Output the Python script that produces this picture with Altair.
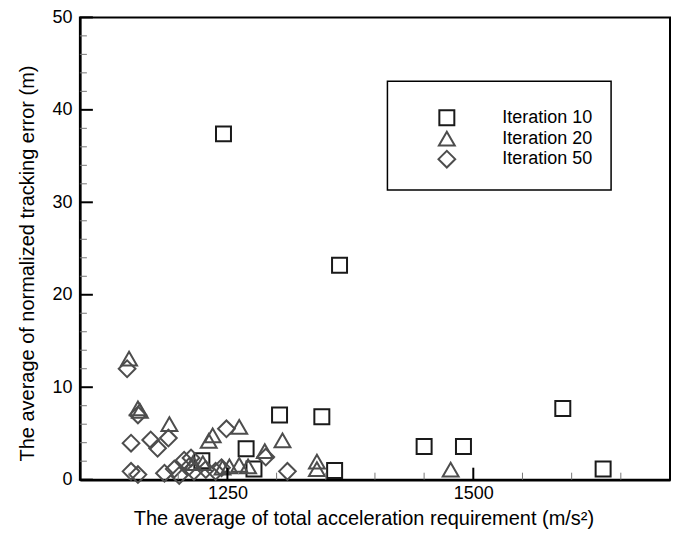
import altair as alt
import pandas as pd

series = ["Iteration 10", "Iteration 20", "Iteration 50"]

it10_x = [1246, 1364, 1303, 1346, 1591, 1450, 1490, 1632, 1269, 1359, 1277, 1224]
it10_y = [37.4, 23.2, 7.0, 6.8, 7.7, 3.6, 3.6, 1.15, 3.35, 1.0, 1.15, 2.05]

it20_x = [1150, 1159, 1161, 1191, 1231, 1235, 1262, 1288, 1306, 1341, 1341, 1477,
          1215, 1225, 1245, 1252, 1262, 1271]
it20_y = [13.1, 7.7, 7.45, 6.0, 4.2, 4.8, 5.7, 3.1, 4.25, 1.95, 1.15, 1.1,
          1.8, 1.8, 1.3, 1.45, 1.6, 1.45]

it50_x = [1148, 1159, 1152, 1172, 1179, 1190, 1249, 1289, 1311, 1152, 1159, 1186,
          1196, 1201, 1206, 1211, 1213, 1216, 1228, 1238, 1244]
it50_y = [12.0, 7.0, 3.95, 4.3, 3.4, 4.5, 5.5, 2.45, 0.9, 0.9, 0.55, 0.7,
          1.15, 0.45, 2.1, 1.4, 2.35, 0.9, 1.1, 0.9, 1.3]

x_major = [1250, 1500]
x_minor = [1150, 1200, 1300, 1350, 1400, 1450, 1550, 1600, 1650]
y_major = [0, 10, 20, 30, 40, 50]
y_minor = [2, 4, 6, 8, 12, 14, 16, 18, 22, 24, 26, 28, 32, 34, 36, 38, 42, 44, 46, 48]

rows = []
for name, xs, ys in zip(series, [it10_x, it20_x, it50_x], [it10_y, it20_y, it50_y]):
    for a, b in zip(xs, ys):
        rows.append({"series": name, "x": a, "y": b})
df = pd.DataFrame(rows)

FONT = "Liberation Sans"
TOP = 9
W, H = 591, 463

xscale = alt.Scale(domain=[1100, 1700], nice=False, zero=False)
yscale = alt.Scale(domain=[0, 50], nice=False)

xaxis = alt.Axis(
    values=x_major, format="d", title="The average of total acceleration requirement (m/s²)",
    ticks=False, tickSize=0, grid=False, labelFontSize=18, labelPadding=5,
    labelFont=FONT, titleFont=FONT, labelColor="black", titleColor="black",
    domainColor="black", domainWidth=2.5, titleFontSize=20, titleFontWeight="normal",
    titleX=284, titleAlign="center", titleY=45, titleBaseline="alphabetic")
yaxis = alt.Axis(
    values=y_major, format="d", title="The average of normalized tracking error (m)",
    ticks=False, tickSize=0, grid=False, labelFontSize=18, labelPadding=8,
    labelFont=FONT, titleFont=FONT, labelColor="black", titleColor="black",
    domainColor="black", domainWidth=2.5, titleFontSize=20, titleFontWeight="normal",
    titleX=-52, titleY=248 - (TOP - 7), titleAngle=270, titleBaseline="middle", titleAlign="center")

legend = alt.Legend(
    title=" ", titleFontSize=9, titlePadding=0.5, orient="none",
    legendX=308, legendY=81 - 8 - TOP, padding=18,
    strokeColor="black", fillColor="white",
    labelFontSize=18, labelFont=FONT, labelColor="black",
    symbolStrokeWidth=2,
    symbolOffset=32, labelOffset=46, rowPadding=-3.5,
)

points = alt.Chart(df).mark_point(filled=False, strokeWidth=2, opacity=1).encode(
    x=alt.X("x:Q", scale=xscale, axis=xaxis),
    y=alt.Y("y:Q", scale=yscale, axis=yaxis),
    shape=alt.Shape("series:N", scale=alt.Scale(domain=series, range=["square", "triangle-up", "diamond"]), legend=legend),
    stroke=alt.Stroke("series:N", scale=alt.Scale(domain=series, range=["#1a1a1a", "#4d4d4d", "#4d4d4d"]), legend=legend),
    size=alt.Size("series:N", scale=alt.Scale(domain=series, range=[225, 280, 400]), legend=legend),
)

ymaj = alt.Chart(pd.DataFrame({"v": y_major})).mark_rule(color="black", strokeWidth=2).encode(
    y=alt.Y("v:Q", scale=yscale, axis=yaxis), x=alt.value(0), x2=alt.value(13))
ymin = alt.Chart(pd.DataFrame({"v": y_minor})).mark_rule(color="#777777", strokeWidth=1).encode(
    y=alt.Y("v:Q", scale=yscale, axis=yaxis), x=alt.value(0), x2=alt.value(7))
xmaj = alt.Chart(pd.DataFrame({"u": x_major})).mark_rule(color="black", strokeWidth=2).encode(
    x=alt.X("u:Q", scale=xscale, axis=xaxis), y=alt.value(H), y2=alt.value(H - 12))
xmin = alt.Chart(pd.DataFrame({"u": x_minor})).mark_rule(color="#777777", strokeWidth=1).encode(
    x=alt.X("u:Q", scale=xscale, axis=xaxis), y=alt.value(H), y2=alt.value(H - 7))

chart = alt.layer(points, ymaj, ymin, xmaj, xmin).properties(
    width=W, height=H,
    autosize=alt.AutoSizeParams(type="none"),
    padding={"left": 72, "top": TOP, "right": 1, "bottom": 49},
).configure_view(stroke="black", strokeWidth=2).configure_legend(strokeWidth=1.5)

chart.save("out.html", embed_options={"renderer": "svg", "actions": False})
